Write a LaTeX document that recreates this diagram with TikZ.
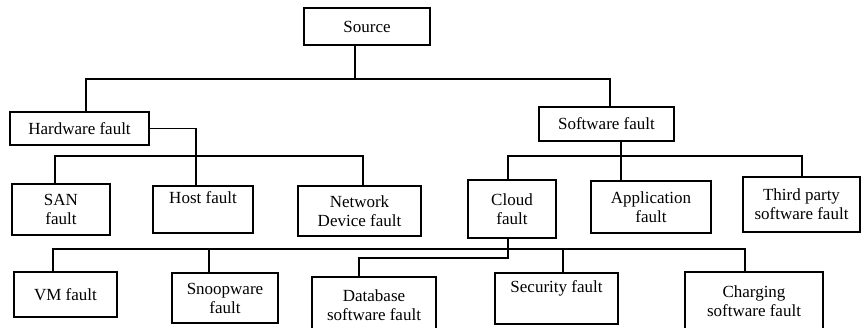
\documentclass[tikz,border=0pt]{standalone}
\usepackage{fontspec}
\setmainfont{Liberation Serif}
\usetikzlibrary{positioning}

\begin{document}
\begin{tikzpicture}
            [x=1pt, y=-1pt, line width=1.3pt,
             box/.style={draw, align=center, inner sep=2pt, font=\fontsize{17}{19}\selectfont}]
            \useasboundingbox (0,0) rectangle (861,327);
            \clip (0,0) rectangle (861,327);

            \node[box, minimum width=126pt, minimum height=37pt] (src) at (367,26.5) {Source};
            \node[box, minimum width=139pt, minimum height=33pt] (hw) at (79.5,128.5) {Hardware fault};
            \node[box, minimum width=135pt, minimum height=34pt] (sw) at (606.5,124) {Software fault};

            \node[box, minimum width=98pt, minimum height=51pt] (san) at (61,209.5) {SAN\\fault};
            \node[box, minimum width=100pt, minimum height=47pt] (host) at (203,209.5) {Host fault\\ \strut};
            \node[box, minimum width=123pt, minimum height=50pt] (net) at (359.5,211) {Network\\Device fault};
            \node[box, minimum width=88pt, minimum height=58pt] (cloud) at (512,209) {Cloud\\fault};
            \node[box, minimum width=120pt, minimum height=52pt] (app) at (651,207) {Application\\fault};
            \node[box, minimum width=117pt, minimum height=55pt] (third) at (801.5,204.5) {Third party\\software fault};

            \node[box, minimum width=103pt, minimum height=45pt] (vm) at (65.5,294.5) {VM fault};
            \node[box, minimum width=106pt, minimum height=50pt] (snoop) at (225,298) {Snoopware\\fault};
            \node[box, minimum width=124pt, minimum height=56pt] (db) at (374,305) {Database\\software fault};
            \node[box, minimum width=123pt, minimum height=51pt] (sec) at (556.5,298.5) {Security fault\\ \strut};
            \node[box, minimum width=138pt, minimum height=58pt] (chg) at (754,301) {Charging\\software fault};

            % source level
            \coordinate (top) at (355,79);
            \coordinate (tl) at (86,79);
            \coordinate (tr) at (610,79);
            \draw (top |- src.south) -- (top);
            \draw (tl |- hw.north) -- (tl) -- (tr) -- (tr |- sw.north);

            % hardware
            \coordinate (hx) at (196,156);
            \coordinate (hl) at (55,156);
            \coordinate (hr) at (363,156);
            \draw (hw.east) -| (hx |- host.north);
            \draw (hl |- san.north) -- (hl) -- (hr) -- (hr |- net.north);

            % software
            \coordinate (sm) at (621,156);
            \coordinate (sl) at (508,156);
            \coordinate (sr) at (802,156);
            \draw (sm |- sw.south) -- (sm |- app.north);
            \draw (sl |- cloud.north) -- (sl) -- (sr) -- (sr |- third.north);

            % cloud
            \coordinate (cl) at (508,258);
            \coordinate (cd) at (359,258);
            \coordinate (bl) at (53,249);
            \coordinate (br) at (745,249);
            \coordinate (bs) at (209,249);
            \coordinate (bc) at (563,249);
            \draw (cl |- cloud.south) -- (cl) -- (cd) -- (cd |- db.north);
            \draw (bl |- vm.north) -- (bl) -- (br) -- (br |- chg.north);
            \draw (bs) -- (bs |- snoop.north);
            \draw (bc) -- (bc |- sec.north);
        \end{tikzpicture}
\end{document}
